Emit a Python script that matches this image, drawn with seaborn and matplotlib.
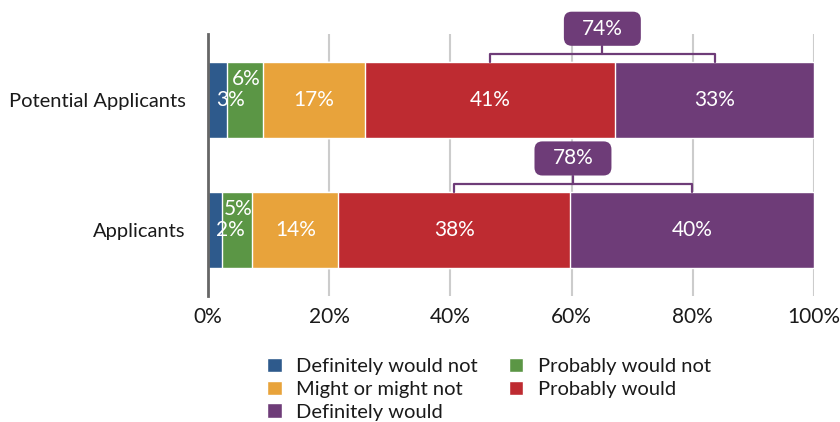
import numpy as np
import pandas as pd
import matplotlib.pyplot as plt
import seaborn as sns
from matplotlib.patches import FancyBboxPatch, Patch

# survey shares (%)
groups = ['Potential Applicants', 'Applicants']
responses = ['Definitely would not', 'Probably would not', 'Might or might not',
             'Probably would', 'Definitely would']
definitely_not = [3.1, 2.3]
probably_not = [6.0, 5.0]
might = [16.8, 14.2]
probably = [41.3, 38.2]
definitely = [32.8, 40.3]
would_total = ['74%', '78%']
x_ticks = [0, 20, 40, 60, 80, 100]
colors = ['#2e5a8c', '#5b9645', '#e8a33b', '#be2b31', '#6e3c78']

sns.set_theme(style='white')
plt.rcParams['font.family'] = ['Lato', 'DejaVu Sans']

df = pd.DataFrame({'group': groups,
                   responses[0]: definitely_not, responses[1]: probably_not,
                   responses[2]: might, responses[3]: probably, responses[4]: definitely})
cum = df[responses].cumsum(axis=1)
cum['group'] = groups

fig = plt.figure(figsize=(8.4, 4.22), dpi=100)
ax = fig.add_axes([208 / 840, 1 - 296 / 422, 606 / 840, 262 / 422])

# stacked bars: draw the cumulative totals from the widest one down
for resp, col in reversed(list(zip(responses, colors))):
    sns.barplot(data=cum, x=resp, y='group', color=col, width=0.59, saturation=1,
                orient='h', order=groups, ax=ax, zorder=2)

ax.set_xlim(0, 100)
ax.set_ylim(1.51, -0.51)
ax.set_xlabel('')
ax.set_ylabel('')
ax.set_xticks(x_ticks)
ax.set_xticklabels([f'{t}%' for t in x_ticks])
ax.xaxis.grid(True, color='#cccccc', lw=1.5)
ax.set_axisbelow(True)
for s in ['top', 'right', 'bottom']:
    ax.spines[s].set_visible(False)
ax.spines['left'].set_color('#666666')
ax.spines['left'].set_linewidth(2)
ax.spines['left'].set_zorder(3)
ax.tick_params(axis='x', length=0, pad=8, labelsize=15, labelcolor='#1a1a1a')
ax.tick_params(axis='y', length=0, pad=16, labelsize=14.5, labelcolor='#1a1a1a')

# labels inside the segments
half = 0.295
for i, g in enumerate(groups):
    start = 0
    for resp in responses:
        v = df.loc[i, resp]
        lab = f'{round(v)}%'
        if v < 4:
            ax.annotate(lab, (start, i), xytext=(6, 0), textcoords='offset points',
                        ha='left', va='center', color='white', fontsize=15, zorder=4)
        elif v < 8:
            ax.annotate(lab, (start + v / 2, i), xytext=(1, 15), textcoords='offset points',
                        ha='center', va='center', color='white', fontsize=15, zorder=4)
        else:
            ax.text(start + v / 2, i, lab, ha='center', va='center', color='white',
                    fontsize=15, zorder=4)
        start += v

    # bracket over "probably" + "definitely would"
    red_mid = cum.loc[i, responses[2]] + df.loc[i, responses[3]] / 2
    pur_mid = cum.loc[i, responses[3]] + df.loc[i, responses[4]] / 2
    mid = (red_mid + pur_mid) / 2
    top = i - half
    line_y = top - 0.062
    ax.plot([red_mid, red_mid, pur_mid, pur_mid], [top, line_y, line_y, top],
            color=colors[4], lw=1.6, clip_on=False, solid_joinstyle='round', zorder=3)
    ax.plot([mid, mid], [line_y, top - 0.124], color=colors[4], lw=1.6,
            clip_on=False, zorder=3)
    bw, bh = 12.7, 0.263
    box = FancyBboxPatch((mid - bw / 2, top - 0.124 - bh), bw, bh,
                         boxstyle='round,pad=0,rounding_size=1.3', mutation_aspect=0.048,
                         fc=colors[4], ec='none', clip_on=False, zorder=3)
    ax.add_patch(box)
    ax.text(mid, top - 0.124 - bh / 2, would_total[i], ha='center', va='center',
            color='white', fontsize=15, zorder=4)

# legend, row-major order in two columns
order = [0, 2, 4, 1, 3]
handles = [Patch(facecolor=colors[k], label=responses[k]) for k in order]
fig.legend(handles=handles, ncol=2, loc='upper left', bbox_to_anchor=(267 / 840, 1 - 358 / 422),
           frameon=False, fontsize=14.5, handlelength=0.72, handleheight=0.72,
           handletextpad=0.72, columnspacing=1.55, labelspacing=0.27,
           borderpad=0, borderaxespad=0, labelcolor='#1a1a1a')

plt.savefig('out.png', dpi=100)
